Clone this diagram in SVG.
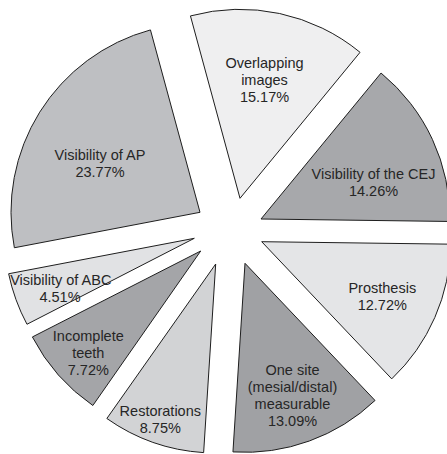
<svg xmlns="http://www.w3.org/2000/svg" width="447" height="454" viewBox="0 0 447 454">
<style>
.s{stroke:#1e1e1e;stroke-width:1;stroke-linejoin:miter}
.t{font-family:"Liberation Sans",Arial,sans-serif;font-size:14.5px;fill:#262626;text-anchor:middle}
</style>
<rect width="447" height="454" fill="#ffffff"/>
<g id="overlapping">
<path class="s" fill="#efeff0" d="M240,198.3 L190.44,15.91 A189,189 0 0 1 360.05,52.32 Z"/>
<text class="t" x="264.5" y="67.5">Overlapping</text>
<text class="t" x="264.5" y="84.5">images</text>
<text class="t" x="264.5" y="101.5">15.17%</text>
</g>
<g id="cej">
<path class="s" fill="#a7a8ab" d="M261,219 L381.05,73.02 A189,189 0 0 1 449.98,221.47 Z"/>
<text class="t" x="373.5" y="179.3">Visibility of the CEJ</text>
<text class="t" x="373.5" y="196.3">14.26%</text>
</g>
<g id="prosthesis">
<path class="s" fill="#e4e5e7" d="M261.7,241.7 L450.68,244.17 A189,189 0 0 1 391.73,378.86 Z"/>
<text class="t" x="382.3" y="292.7">Prosthesis</text>
<text class="t" x="382.3" y="309.7">12.72%</text>
</g>
<g id="onesite">
<path class="s" fill="#a0a1a4" d="M245,263.3 L375.03,400.46 A189,189 0 0 1 232.94,451.92 Z"/>
<text class="t" x="292.5" y="375">One site</text>
<text class="t" x="292.5" y="392">(mesial/distal)</text>
<text class="t" x="292.5" y="409">measurable</text>
<text class="t" x="292.5" y="426">13.09%</text>
</g>
<g id="restorations">
<path class="s" fill="#d2d3d5" d="M215.7,264 L203.64,452.62 A189,189 0 0 1 106.85,418.51 Z"/>
<text class="t" x="160.3" y="416.3">Restorations</text>
<text class="t" x="160.3" y="433.3">8.75%</text>
</g>
<g id="incomplete">
<path class="s" fill="#a4a5a8" d="M200.7,251 L92.85,405.51 A189,189 0 0 1 32.38,336.96 Z"/>
<text class="t" x="88.3" y="340.5">Incomplete</text>
<text class="t" x="88.3" y="357.5">teeth</text>
<text class="t" x="88.3" y="374.5">7.72%</text>
</g>
<g id="abc">
<path class="s" fill="#e1e2e4" d="M194.3,238.3 L26.98,324.26 A189,189 0 0 1 8.65,273.76 Z"/>
<text class="t" x="60.8" y="285">Visibility of ABC</text>
<text class="t" x="60" y="302">4.51%</text>
</g>
<g id="ap">
<path class="s" fill="#bebfc2" d="M200,212.3 L14.35,247.76 A189,189 0 0 1 150.44,29.91 Z"/>
<text class="t" x="100" y="160">Visibility of AP</text>
<text class="t" x="100" y="177">23.77%</text>
</g>
<g id="connectors"></g>
</svg>
